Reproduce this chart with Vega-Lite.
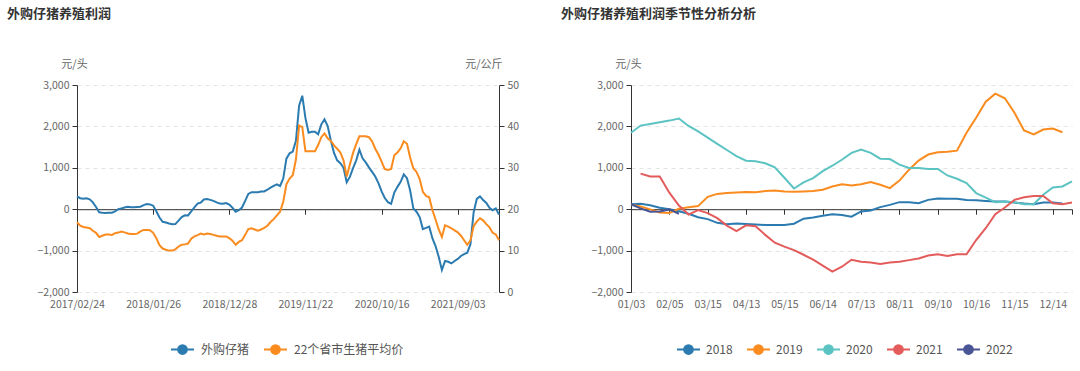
{
  "$schema": "https://vega.github.io/schema/vega-lite/v6.json",
  "padding": {"left": 7, "top": 8, "right": 0, "bottom": 0},
  "background": "white",
  "spacing": 42,
  "resolve": {"scale": {"color": "independent", "y": "independent", "x": "independent"}, "legend": {"color": "independent"}},
  "config": {
    "font": "Noto Sans CJK SC",
    "view": {"stroke": null},
    "axis": {
      "labelFont": "Noto Sans CJK SC", "labelFontSize": 10.5, "labelColor": "#666666",
      "titleFont": "Noto Sans CJK SC", "titleFontSize": 11, "titleFontWeight": "normal", "titleColor": "#666666",
      "domainColor": "#333333", "tickColor": "#333333", "tickSize": 5,
      "gridColor": "#e3e3e3", "gridDash": [4, 4], "labelPadding": 3
    },
    "legend": {
      "labelFont": "Noto Sans CJK SC", "labelFontSize": 12, "labelColor": "#555555"
    },
    "title": {"font": "Noto Sans CJK SC"}
  },
  "hconcat": [
    {
      "width": 422,
      "height": 207,
      "title": {"text": "外购仔猪养殖利润", "anchor": "start", "frame": "group", "dx": -70, "fontSize": 13, "fontWeight": "bold", "color": "#333333", "offset": 37},
      "data": {"values": [
        {"d":"2017/02/24","p":310,"q":16.9},{"d":"2017/03/10","p":265,"q":16.0},{"d":"2017/03/24","p":250,"q":15.7},{"d":"2017/04/07","p":265,"q":15.6},
        {"d":"2017/04/21","p":240,"q":15.4},{"d":"2017/05/05","p":165,"q":14.8},{"d":"2017/05/19","p":55,"q":14.3},{"d":"2017/06/02","p":-75,"q":13.3},
        {"d":"2017/06/16","p":-85,"q":13.6},{"d":"2017/06/30","p":-90,"q":13.9},{"d":"2017/07/14","p":-85,"q":13.9},{"d":"2017/07/28","p":-85,"q":13.8},
        {"d":"2017/08/11","p":-55,"q":14.2},{"d":"2017/08/25","p":0,"q":14.35},{"d":"2017/09/08","p":20,"q":14.6},{"d":"2017/09/22","p":40,"q":14.4},
        {"d":"2017/10/06","p":60,"q":14.15},{"d":"2017/10/20","p":50,"q":14.0},{"d":"2017/11/03","p":50,"q":14.0},{"d":"2017/11/17","p":55,"q":14.1},
        {"d":"2017/12/01","p":60,"q":14.65},{"d":"2017/12/15","p":100,"q":15.0},{"d":"2017/12/29","p":125,"q":15.0},{"d":"2018/01/12","p":115,"q":14.9},
        {"d":"2018/01/26","p":85,"q":14.3},{"d":"2018/02/09","p":-50,"q":13.0},{"d":"2018/02/23","p":-200,"q":11.3},{"d":"2018/03/09","p":-305,"q":10.5},
        {"d":"2018/03/23","p":-320,"q":10.2},{"d":"2018/04/06","p":-345,"q":10.0},{"d":"2018/04/20","p":-365,"q":10.0},{"d":"2018/05/04","p":-360,"q":10.3},
        {"d":"2018/05/18","p":-275,"q":11.0},{"d":"2018/06/01","p":-190,"q":11.4},{"d":"2018/06/15","p":-148,"q":11.5},{"d":"2018/06/29","p":-150,"q":11.7},
        {"d":"2018/07/13","p":-50,"q":12.9},{"d":"2018/07/27","p":45,"q":13.45},{"d":"2018/08/10","p":135,"q":13.75},{"d":"2018/08/24","p":160,"q":14.1},
        {"d":"2018/09/07","p":235,"q":13.9},{"d":"2018/09/21","p":245,"q":14.1},{"d":"2018/10/05","p":225,"q":14.0},{"d":"2018/10/19","p":200,"q":13.8},
        {"d":"2018/11/02","p":165,"q":13.6},{"d":"2018/11/16","p":135,"q":13.4},{"d":"2018/11/30","p":130,"q":13.4},{"d":"2018/12/14","p":150,"q":13.4},
        {"d":"2018/12/28","p":110,"q":13.0},{"d":"2019/01/11","p":35,"q":12.4},{"d":"2019/01/25","p":-60,"q":11.4},{"d":"2019/02/08","p":-25,"q":12.1},
        {"d":"2019/02/22","p":40,"q":12.5},{"d":"2019/03/08","p":200,"q":13.8},{"d":"2019/03/22","p":370,"q":15.2},{"d":"2019/04/05","p":410,"q":15.4},
        {"d":"2019/04/19","p":410,"q":15.1},{"d":"2019/05/03","p":410,"q":14.8},{"d":"2019/05/17","p":425,"q":15.1},{"d":"2019/05/31","p":430,"q":15.5},
        {"d":"2019/06/14","p":470,"q":16.0},{"d":"2019/06/28","p":520,"q":16.9},{"d":"2019/07/12","p":565,"q":17.6},{"d":"2019/07/26","p":600,"q":18.5},
        {"d":"2019/08/09","p":560,"q":19.4},{"d":"2019/08/23","p":740,"q":21.8},{"d":"2019/09/06","p":1220,"q":26.0},{"d":"2019/09/20","p":1350,"q":27.4},
        {"d":"2019/10/04","p":1390,"q":28.2},{"d":"2019/10/18","p":1650,"q":32.0},{"d":"2019/11/01","p":2500,"q":40.2},{"d":"2019/11/15","p":2740,"q":39.8},
        {"d":"2019/11/22","p":2200,"q":34.0},{"d":"2019/12/06","p":1845,"q":34.0},{"d":"2019/12/20","p":1870,"q":34.0},{"d":"2020/01/03","p":1870,"q":34.0},
        {"d":"2020/01/17","p":1810,"q":35.5},{"d":"2020/01/31","p":2050,"q":37.4},{"d":"2020/02/14","p":2170,"q":38.3},{"d":"2020/02/28","p":2010,"q":37.1},
        {"d":"2020/03/13","p":1660,"q":36.5},{"d":"2020/03/27","p":1360,"q":35.4},{"d":"2020/04/10","p":1180,"q":34.6},{"d":"2020/04/24","p":1110,"q":33.7},
        {"d":"2020/05/08","p":1000,"q":31.8},{"d":"2020/05/22","p":650,"q":27.9},{"d":"2020/06/05","p":780,"q":30.8},{"d":"2020/06/19","p":990,"q":33.6},
        {"d":"2020/07/03","p":1180,"q":35.7},{"d":"2020/07/17","p":1440,"q":37.6},{"d":"2020/07/31","p":1230,"q":37.6},{"d":"2020/08/14","p":1130,"q":37.6},
        {"d":"2020/08/28","p":1010,"q":37.4},{"d":"2020/09/11","p":900,"q":36.4},{"d":"2020/09/25","p":790,"q":34.6},{"d":"2020/10/09","p":630,"q":33.2},
        {"d":"2020/10/16","p":430,"q":31.5},{"d":"2020/10/30","p":270,"q":29.7},{"d":"2020/11/13","p":170,"q":29.5},{"d":"2020/11/27","p":130,"q":29.7},
        {"d":"2020/12/11","p":400,"q":33.0},{"d":"2020/12/25","p":540,"q":33.7},{"d":"2021/01/08","p":660,"q":34.7},{"d":"2021/01/22","p":840,"q":36.4},
        {"d":"2021/02/05","p":750,"q":35.8},{"d":"2021/02/19","p":450,"q":32.5},{"d":"2021/03/05","p":20,"q":29.9},{"d":"2021/03/19","p":-60,"q":29.0},
        {"d":"2021/04/02","p":-190,"q":27.3},{"d":"2021/04/16","p":-480,"q":24.2},{"d":"2021/04/30","p":-450,"q":23.2},{"d":"2021/05/14","p":-420,"q":22.9},
        {"d":"2021/05/28","p":-700,"q":19.8},{"d":"2021/06/11","p":-890,"q":17.5},{"d":"2021/06/25","p":-1150,"q":15.1},{"d":"2021/07/09","p":-1470,"q":13.3},
        {"d":"2021/07/23","p":-1250,"q":16.1},{"d":"2021/08/06","p":-1270,"q":15.8},{"d":"2021/08/20","p":-1310,"q":15.4},{"d":"2021/08/27","p":-1250,"q":14.9},
        {"d":"2021/09/03","p":-1200,"q":14.4},{"d":"2021/09/17","p":-1130,"q":13.6},{"d":"2021/10/01","p":-1085,"q":12.5},{"d":"2021/10/15","p":-1050,"q":11.4},
        {"d":"2021/10/29","p":-850,"q":12.5},{"d":"2021/11/12","p":-80,"q":15.9},{"d":"2021/11/26","p":250,"q":17.0},{"d":"2021/12/10","p":310,"q":17.8},
        {"d":"2021/12/17","p":220,"q":17.3},{"d":"2021/12/24","p":150,"q":16.4},{"d":"2021/12/31","p":35,"q":15.6},{"d":"2022/01/07","p":-25,"q":14.3},
        {"d":"2022/01/14","p":20,"q":13.9},{"d":"2022/01/21","p":-130,"q":12.5}
      ]},
      "layer": [
        {
          "mark": {"type": "line", "strokeWidth": 2},
          "encoding": {
            "x": {"field": "d", "type": "ordinal", "scale": {"type": "point", "padding": 0},
              "axis": {"values": ["2017/02/24","2018/01/26","2018/12/28","2019/11/22","2020/10/16","2021/09/03"],
                "domain": false, "ticks": false, "tickSize": 0, "labelPadding": 7, "labelAngle": 0, "title": null, "grid": false}},
            "y": {"field": "p", "type": "quantitative", "scale": {"domain": [-2000, 3000], "nice": false, "zero": false},
              "axis": {"values": [-2000, -1000, 0, 1000, 2000, 3000], "format": ",.0f", "grid": true, "title": "元/头",
                "titleAngle": 0, "titleX": -3, "titleY": -21, "titleAlign": "center", "titleBaseline": "middle"}},
            "color": {"datum": "外购仔猪", "type": "nominal",
              "scale": {"domain": ["外购仔猪", "22个省市生猪平均价"], "range": ["#2b7bb0", "#fa8b1e"]},
              "legend": {"orient": "none", "legendX": 93, "legendY": 252, "direction": "horizontal", "title": null,
                "symbolType": "M-1,0L1,0M0.38,0A0.38,0.38,0,1,1,-0.38,0A0.38,0.38,0,1,1,0.38,0M0.27,0A0.27,0.27,0,1,1,-0.27,0A0.27,0.27,0,1,1,0.27,0M0.16,0A0.16,0.16,0,1,1,-0.16,0A0.16,0.16,0,1,1,0.16,0M0.06,0A0.06,0.06,0,1,1,-0.06,0A0.06,0.06,0,1,1,0.06,0",
                "symbolSize": 529, "symbolStrokeWidth": 2, "labelOffset": 6, "columnPadding": 10}}
          }
        },
        {
          "mark": {"type": "line", "strokeWidth": 2},
          "encoding": {
            "x": {"field": "d", "type": "ordinal",
              "axis": {"orient": "bottom", "offset": -82.8, "values": ["2018/01/26","2018/12/28","2019/11/22","2020/10/16","2021/09/03"],
                "labels": false, "domain": true, "ticks": true, "title": null, "grid": false}},
            "y": {"field": "q", "type": "quantitative", "scale": {"domain": [0, 50], "nice": false},
              "axis": {"orient": "right", "values": [0, 10, 20, 30, 40, 50], "grid": false, "title": "元/公斤",
                "titleAngle": 0, "titleX": 3, "titleY": -21, "titleAlign": "right", "titleBaseline": "middle"}},
            "color": {"datum": "22个省市生猪平均价", "type": "nominal"}
          }
        }
      ],
      "resolve": {"scale": {"y": "independent"}, "axis": {"x": "independent", "y": "independent"}}
    },
    {
      "width": 441,
      "height": 207,
      "title": {"text": "外购仔猪养殖利润季节性分析分析", "anchor": "start", "frame": "group", "dx": -70, "fontSize": 13, "fontWeight": "bold", "color": "#333333", "offset": 37},
      "data": {"values": [
        {"w":"01/03","2018":120,"2019":105,"2020":1845,"2022":120},
        {"w":"01/10","2018":130,"2019":65,"2020":2020,"2021":860,"2022":20},
        {"w":"01/17","2018":95,"2019":-5,"2020":2060,"2021":790,"2022":-60},
        {"w":"01/24","2018":35,"2019":-80,"2020":2100,"2021":790,"2022":-55},
        {"w":"02/05","2018":0,"2019":-90,"2020":2140,"2021":400,"2022":-5},
        {"w":"02/14","2018":-50,"2019":10,"2020":2190,"2021":90,"2022":-110},
        {"w":"02/21","2018":-110,"2019":45,"2020":2010,"2021":-130},
        {"w":"03/07","2018":-195,"2019":75,"2020":1880,"2021":-20},
        {"w":"03/15","2018":-240,"2019":300,"2020":1730,"2021":-95},
        {"w":"03/22","2018":-330,"2019":370,"2020":1580,"2021":-215},
        {"w":"03/29","2018":-365,"2019":390,"2020":1430,"2021":-395},
        {"w":"04/06","2018":-345,"2019":405,"2020":1280,"2021":-530},
        {"w":"04/13","2018":-360,"2019":415,"2020":1170,"2021":-390},
        {"w":"04/20","2018":-370,"2019":410,"2020":1160,"2021":-410},
        {"w":"04/27","2018":-380,"2019":440,"2020":1110,"2021":-620},
        {"w":"05/08","2018":-380,"2019":450,"2020":1010,"2021":-810},
        {"w":"05/15","2018":-380,"2019":425,"2020":760,"2021":-905},
        {"w":"05/22","2018":-350,"2019":420,"2020":500,"2021":-990},
        {"w":"05/29","2018":-230,"2019":430,"2020":650,"2021":-1100},
        {"w":"06/05","2018":-200,"2019":440,"2020":750,"2021":-1220},
        {"w":"06/14","2018":-160,"2019":470,"2020":920,"2021":-1365},
        {"w":"06/21","2018":-120,"2019":550,"2020":1050,"2021":-1510},
        {"w":"06/28","2018":-140,"2019":605,"2020":1195,"2021":-1390},
        {"w":"07/06","2018":-180,"2019":570,"2020":1360,"2021":-1220},
        {"w":"07/13","2018":-55,"2019":605,"2020":1440,"2021":-1270},
        {"w":"07/20","2018":-30,"2019":655,"2020":1360,"2021":-1290},
        {"w":"07/27","2018":50,"2019":590,"2020":1220,"2021":-1325},
        {"w":"08/03","2018":105,"2019":510,"2020":1210,"2021":-1290},
        {"w":"08/11","2018":170,"2019":690,"2020":1075,"2021":-1270},
        {"w":"08/18","2018":170,"2019":955,"2020":995,"2021":-1230},
        {"w":"08/25","2018":145,"2019":1175,"2020":995,"2021":-1190},
        {"w":"09/01","2018":225,"2019":1320,"2020":970,"2021":-1120},
        {"w":"09/10","2018":260,"2019":1375,"2020":970,"2021":-1090},
        {"w":"09/17","2018":250,"2019":1385,"2020":815,"2021":-1130},
        {"w":"09/24","2018":250,"2019":1415,"2020":735,"2021":-1090},
        {"w":"10/09","2018":225,"2019":1845,"2020":630,"2021":-1090},
        {"w":"10/16","2018":215,"2019":2210,"2020":390,"2021":-745},
        {"w":"10/23","2018":200,"2019":2595,"2020":280,"2021":-460},
        {"w":"10/30","2018":185,"2019":2790,"2020":170,"2021":-120},
        {"w":"11/06","2018":185,"2019":2680,"2020":185,"2021":40},
        {"w":"11/15","2018":160,"2019":2330,"2020":170,"2021":225},
        {"w":"11/22","2018":135,"2019":1900,"2020":120,"2021":290},
        {"w":"11/29","2018":120,"2019":1805,"2020":120,"2021":320},
        {"w":"12/07","2018":160,"2019":1925,"2020":350,"2021":320},
        {"w":"12/14","2018":160,"2019":1950,"2020":525,"2021":145},
        {"w":"12/21","2018":140,"2019":1860,"2020":550,"2021":120},
        {"w":"12/28","2020":670,"2021":160}
      ]},
      "transform": [{"fold": ["2018", "2019", "2020", "2021", "2022"], "as": ["year", "value"]}],
      "layer": [
        {
          "mark": {"type": "line", "strokeWidth": 2},
          "encoding": {
            "x": {"field": "w", "type": "ordinal", "scale": {"type": "point", "padding": 0},
              "axis": {"values": ["01/03","02/05","03/15","04/13","05/15","06/14","07/13","08/11","09/10","10/16","11/15","12/14"],
                "domain": false, "ticks": false, "tickSize": 0, "labelPadding": 7, "labelAngle": 0, "title": null, "grid": false}},
            "y": {"field": "value", "type": "quantitative", "scale": {"domain": [-2000, 3000], "nice": false, "zero": false},
              "axis": {"values": [-2000, -1000, 0, 1000, 2000, 3000], "format": ",.0f", "grid": true, "title": "元/头",
                "titleAngle": 0, "titleX": -3, "titleY": -21, "titleAlign": "center", "titleBaseline": "middle"}},
            "color": {"field": "year", "type": "nominal",
              "scale": {"domain": ["2018", "2019", "2020", "2021", "2022"], "range": ["#2b7bb0", "#fa8b1e", "#5cc3c3", "#e45b5b", "#4a5596"]},
              "legend": {"orient": "none", "legendX": 45, "legendY": 252, "direction": "horizontal", "title": null,
                "symbolType": "M-1,0L1,0M0.38,0A0.38,0.38,0,1,1,-0.38,0A0.38,0.38,0,1,1,0.38,0M0.27,0A0.27,0.27,0,1,1,-0.27,0A0.27,0.27,0,1,1,0.27,0M0.16,0A0.16,0.16,0,1,1,-0.16,0A0.16,0.16,0,1,1,0.16,0M0.06,0A0.06,0.06,0,1,1,-0.06,0A0.06,0.06,0,1,1,0.06,0",
                "symbolSize": 529, "symbolStrokeWidth": 2, "labelOffset": 5, "columnPadding": 10}}
          }
        },
        {
          "mark": {"type": "line", "opacity": 0},
          "encoding": {
            "x": {"field": "w", "type": "ordinal",
              "axis": {"orient": "bottom", "offset": -82.8, "values": ["01/03","02/05","03/15","04/13","05/15","06/14","07/13","08/11","09/10","10/16","11/15","12/14","12/28"],
                "labels": false, "domain": true, "ticks": true, "title": null, "grid": false}},
            "y": {"field": "value", "type": "quantitative",
              "axis": {"values": [-2000, -1000, 0, 1000, 2000, 3000], "format": ",.0f", "grid": true, "title": "元/头",
                "titleAngle": 0, "titleX": -3, "titleY": -21, "titleAlign": "center", "titleBaseline": "middle"}},
            "detail": {"field": "year", "type": "nominal"}
          }
        }
      ],
      "resolve": {"axis": {"x": "independent"}}
    }
  ]
}
